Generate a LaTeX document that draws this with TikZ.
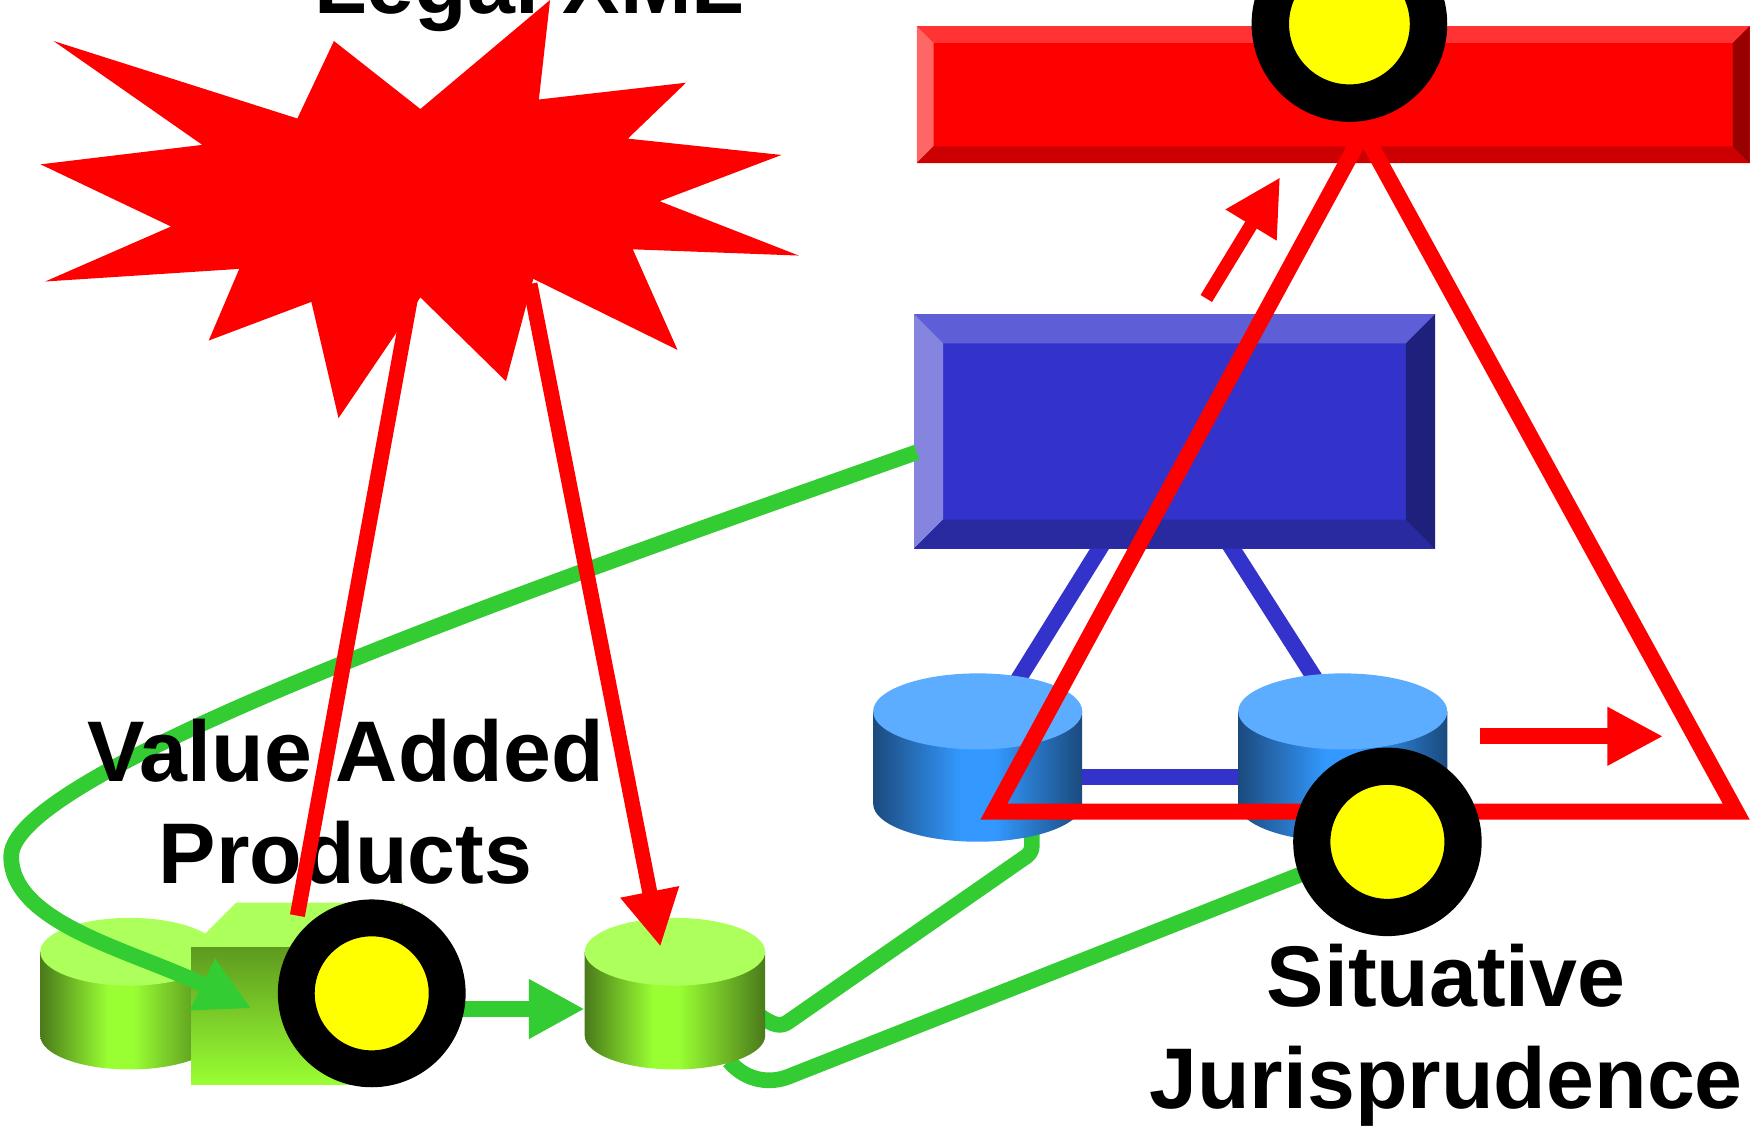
\documentclass[tikz,border=0pt]{standalone}
\usepackage{fontspec}
\setmainfont{Liberation Sans}
\usetikzlibrary{arrows.meta,calc}
\definecolor{lnred}{HTML}{FF0000}
\definecolor{lngreen}{HTML}{33CC33}
\definecolor{lnblue}{HTML}{3333CC}
\definecolor{rbTop}{HTML}{FF3333}
\definecolor{rbLeft}{HTML}{FF6666}
\definecolor{rbBot}{HTML}{CC0000}
\definecolor{rbRight}{HTML}{990000}
\definecolor{bbTop}{HTML}{5E5ED6}
\definecolor{bbLeft}{HTML}{8585E0}
\definecolor{bbBot}{HTML}{2929A0}
\definecolor{bbRight}{HTML}{1F1F7C}
\definecolor{bbMid}{HTML}{3333CC}
\definecolor{cbTop}{HTML}{5CADFF}
\definecolor{cbDark}{HTML}{1B4A7D}
\definecolor{cbBright}{HTML}{3399FF}
\definecolor{cgTop}{HTML}{ADFF5C}
\definecolor{cgDark}{HTML}{4A7A1A}
\definecolor{cgBright}{HTML}{99FF33}
\definecolor{gbFrontTop}{HTML}{5E9A1F}
\definecolor{gbFrontBot}{HTML}{99FF33}
\definecolor{gbSide}{HTML}{6DB02A}
\definecolor{ringYellow}{HTML}{FFFF00}
\pgfdeclarehorizontalshading{cylblueshade}{100bp}{color(0bp)=(cbDark); color(25bp)=(cbDark); color(46bp)=(cbBright); color(54bp)=(cbBright); color(75bp)=(cbDark); color(100bp)=(cbDark)}
\pgfdeclarehorizontalshading{cylgreenshade}{100bp}{color(0bp)=(cgDark); color(25bp)=(cgDark); color(44bp)=(cgBright); color(51bp)=(cgBright); color(75bp)=(cgDark); color(100bp)=(cgDark)}
% bevelled box: #1 node, #2 inset, #3 top, #4 left, #5 bottom, #6 right, #7 middle
\newcommand\bevelfill[7]{%
  \fill[#7] (#1.north west) rectangle (#1.south east);
  \fill[#3] (#1.north west) -- (#1.north east) -- ($(#1.north east)+(-#2,#2)$) -- ($(#1.north west)+(#2,#2)$) -- cycle;
  \fill[#4] (#1.north west) -- ($(#1.north west)+(#2,#2)$) -- ($(#1.south west)+(#2,-#2)$) -- (#1.south west) -- cycle;
  \fill[#5] (#1.south west) -- ($(#1.south west)+(#2,-#2)$) -- ($(#1.south east)+(-#2,-#2)$) -- (#1.south east) -- cycle;
  \fill[#6] (#1.north east) -- (#1.south east) -- ($(#1.south east)+(-#2,-#2)$) -- ($(#1.north east)+(-#2,#2)$) -- cycle;
}
% cylinder: #1 name, #2 cx, #3 cy top, #4 cy bottom, #5 rx, #6 ry, #7 shading, #8 top colour
\newcommand\cylinderat[8]{%
  \coordinate (#1) at (#2,#3);
  \shade[shading=#7] (#2-#5,#3) -- (#2-#5,#4) arc[start angle=180,end angle=0,x radius=#5,y radius=#6] -- (#2+#5,#3) -- cycle;
  \fill[#8] (#1) ellipse[x radius=#5,y radius=#6];
}
\begin{document}
\begin{tikzpicture}[x=1pt,y=-1pt,
  lbl/.style={font=\bfseries\fontsize{77}{91.5}\selectfont, align=center, inner sep=0pt},
  ring/.style={circle, fill=ringYellow, draw=black, inner sep=0pt, outer sep=0pt},
  redln/.style={draw=lnred, line width=13.5pt},
  grnln/.style={draw=lngreen, line width=14pt},
  bluln/.style={draw=lnblue, line width=14.5pt},
  tipbig/.style={-{Triangle[length=50pt,width=50pt]}}]
\useasboundingbox (0,0) rectangle (1568,1009);
\fill[white] (0,0) rectangle (1568,1009);
\clip (0,0) rectangle (1568,1009);

% coordinates
\coordinate (starL) at (368,262);
\coordinate (starR) at (474,254);
\coordinate (gboxTop) at (266,819);
\coordinate (cylRTip) at (590.8,846.8);
\coordinate (bbL) at (820,404.5);
\coordinate (gArrTip) at (225,902);
\coordinate (pRingProd) at (332.5,888.5);
\coordinate (pRingSit) at (1241,753);
\coordinate (prodArrTip) at (523,902.5);
\coordinate (upTail) at (1079,267);
\coordinate (upTip) at (1145,158.6);
\coordinate (rtTail) at (1324,658.6);
\coordinate (rtTip) at (1487.7,658.6);

% Legal XML
\node[lbl, anchor=base] (legal) at (473.5,12.5) {Legal XML};
% starburst
\fill[lnred] (47.9,36.7) -- (266,106) -- (298.7,36.7) -- (376,97.5) -- (492,0) -- (482,89)
  -- (613.6,74) -- (561.6,124) -- (699,138.6) -- (590,180) -- (714.5,228.6) -- (566,223)
  -- (606,313) -- (477,249.4) -- (452.6,341) -- (376,266) -- (302.8,374) -- (278.5,270)
  -- (186.7,304.6) -- (214,240.5) -- (40.4,251.8) -- (153,202.6) -- (36.3,147) -- (181,129.6) -- cycle;

% red bar
\node[minimum width=745pt, minimum height=122.6pt, inner sep=0pt, outer sep=0pt] (redbar) at (1192.5,84.7) {};
\bevelfill{redbar}{15}{rbTop}{rbLeft}{rbBot}{rbRight}{lnred}

% blue connectors (under the blue box and the cylinders)
\draw[bluln] (990.5,479.6) -- (905,617);
\draw[bluln] (1095,479.6) -- (1182,616);
\draw[bluln, line width=14.3pt] (900,695.3) -- (1180,695.3);

% blue box
\node[minimum width=466pt, minimum height=209.7pt, inner sep=0pt, outer sep=0pt] (bluebox) at (1050.6,385.9) {};
\bevelfill{bluebox}{26}{bbTop}{bbLeft}{bbBot}{bbRight}{bbMid}

% green connectors to the right cylinder
\draw[grnln, line join=round] (923,740) -- (923,756) .. controls (923,762) and (920,765) .. (915.4,767.8)
  -- (705.2,913.9) .. controls (698,919) and (692,917) .. (680,909);
\draw[grnln, line join=round] (1200,767.7) -- (705,963.1) .. controls (690,969) and (668,968) .. (652,949);

% blue cylinders
\cylinderat{bcylL}{874.5}{636.3}{718.9}{93.5}{34}{cylblueshade}{cbTop}
\cylinderat{bcylR}{1201}{636.3}{718.9}{93.5}{34}{cylblueshade}{cbTop}

% green cylinders
\cylinderat{gcylL}{116}{851.3}{926.3}{80}{30.3}{cylgreenshade}{cgTop}
\cylinderat{gcylR}{603.7}{851.3}{926.3}{80.7}{30.3}{cylgreenshade}{cgTop}

% green box
\node[minimum width=149.3pt, minimum height=122pt, inner sep=0pt, outer sep=0pt] (gbox) at (245.65,908.7) {};
\fill[cgTop] (gbox.north west) -- ++(40.3,-40.3) -- ($(gbox.north east)+(40.3,-40.3)$) -- (gbox.north east) -- cycle;
\fill[gbSide] (gbox.north east) -- ++(40.3,-40.3) -- ($(gbox.south east)+(40.3,-40.3)$) -- (gbox.south east) -- cycle;
\shade[top color=gbFrontTop, bottom color=gbFrontBot] (gbox.north west) rectangle (gbox.south east);

% green arrow to the right green cylinder
\draw[grnln, line width=14.3pt, tipbig] (pRingProd |- prodArrTip) -- (prodArrTip);
\node[ring, line width=33pt, minimum size=135pt] (ringProd) at (pRingProd) {};

% big green curve
\draw[grnln, -{Triangle[length=49pt,width=48pt]}] (bbL) .. controls (518,511.5) and (10,686) .. (10,766)
  .. controls (10,826) and (118,850) .. (181,880.5) -- (gArrTip);

% label
\node[lbl, anchor=base] (vap) at (309,790.1) {Value Added\\Products};

% red lines from the star
\draw[redln] (starL) -- (gboxTop);
\draw[redln, tipbig] (starR) -- (cylRTip);

% red triangle and top ring
\draw[lnred, line width=14.3pt, miter limit=10] (889,726) -- (1553,726) -- (1219.5,118) -- cycle;
\node[ring, line width=33.5pt, minimum size=141.5pt] (ringTop) at (1207,21.5) {};

% situative ring
\node[ring, line width=33.3pt, minimum size=135.3pt] (ringSit) at (pRingSit) {};

% small red arrows
\draw[redln, line width=12pt, tipbig] (upTail) -- (upTip);
\draw[redln, line width=14pt, -{Triangle[length=50pt,width=49pt]}] (rtTail) -- (rtTip);

\node[lbl, anchor=base] (sj) at (1293.5,991.4) {Situative\\Jurisprudence};
\end{tikzpicture}
\end{document}
